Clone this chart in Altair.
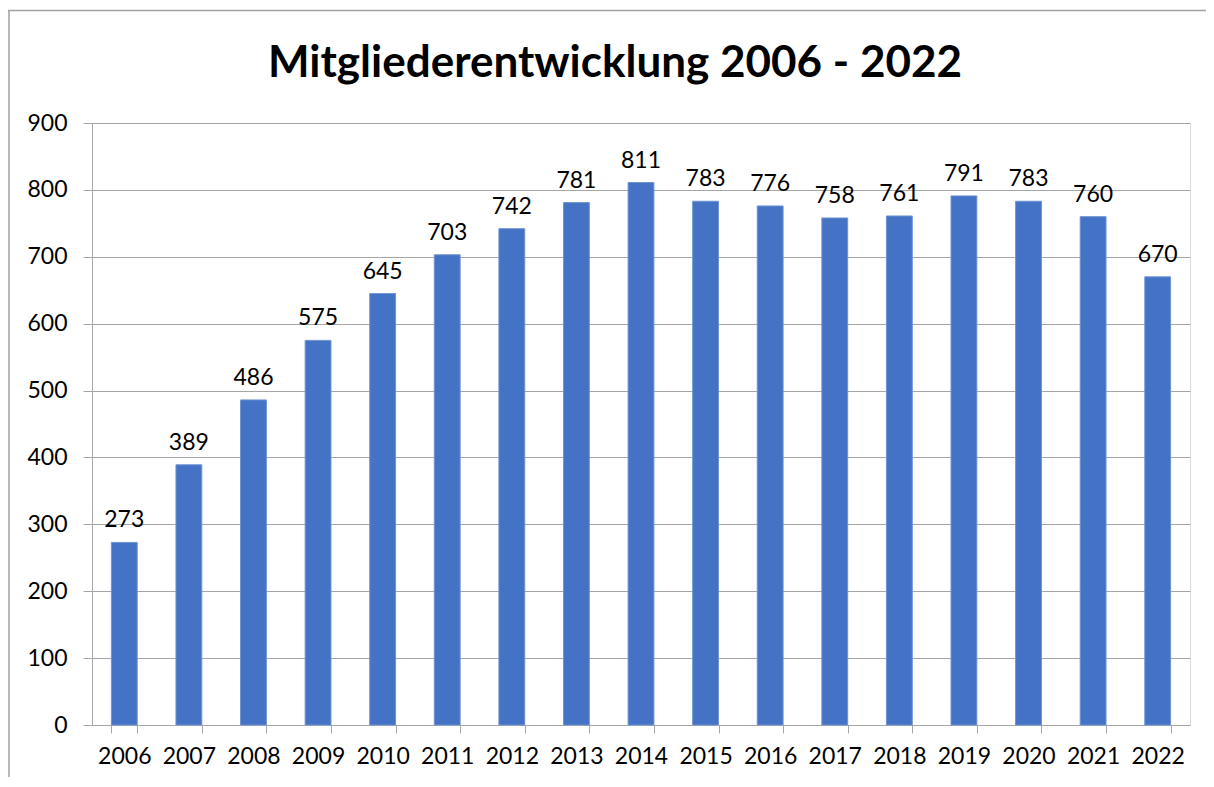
import altair as alt
import pandas as pd

years = ["2006", "2007", "2008", "2009", "2010", "2011", "2012", "2013", "2014",
         "2015", "2016", "2017", "2018", "2019", "2020", "2021", "2022"]
members = [273, 389, 486, 575, 645, 703, 742, 781, 811, 783, 776, 758, 761, 791, 783, 760, 670]
y_ticks = [0, 100, 200, 300, 400, 500, 600, 700, 800, 900]
title_text = ["Mitgliederentwicklung 2006 - 2022"]

df = pd.DataFrame({"Jahr": years, "Mitglieder": members})

FONT = "Lato"
W, H = 1098, 602

x_enc = alt.X("Jahr:N", sort=years, title=None,
              scale=alt.Scale(paddingInner=0.6, paddingOuter=0.3),
              axis=alt.Axis(labelAngle=0, labelFont=FONT, labelFontSize=23, labelColor="#000000",
                            labelPadding=12, tickBand="extent", tickSize=8, tickColor="#a6a6a6",
                            domainColor="#a6a6a6", grid=False))
y_enc = alt.Y("Mitglieder:Q", title=None,
              scale=alt.Scale(domain=[0, 900], nice=False),
              axis=alt.Axis(values=y_ticks, labelFont=FONT, labelFontSize=23, labelColor="#000000",
                            labelPadding=16, tickSize=9, tickColor="#a6a6a6",
                            domainColor="#a6a6a6", gridColor="#a6a6a6"))

bars = alt.Chart(df).mark_bar(color="#4472C4", stroke="#6f93d3", strokeWidth=1).encode(x=x_enc, y=y_enc)
labels = alt.Chart(df).mark_text(font=FONT, fontSize=23, color="#000000", baseline="alphabetic",
                                 dy=-15).encode(x=alt.X("Jahr:N", sort=years), y="Mitglieder:Q",
                                                text="Mitglieder:Q")

frame_df = pd.DataFrame({"f": [0]})
frame_top = alt.Chart(frame_df).mark_rule(stroke="#a0a0a0", strokeWidth=1.5).encode(
    x=alt.value(-84), x2=alt.value(W + 16), y=alt.value(-112.5))
frame_left = alt.Chart(frame_df).mark_rule(stroke="#a0a0a0", strokeWidth=1.5).encode(
    x=alt.value(-83), y=alt.value(-113), y2=alt.value(H + 60))

title = alt.Chart(pd.DataFrame({"t": title_text})).mark_text(
    font=FONT, fontSize=44, fontWeight="bold", color="#000000", align="center",
    baseline="alphabetic").encode(x=alt.value(523), y=alt.value(-46), text="t:N")

chart = alt.layer(frame_top, frame_left, bars, labels, title).properties(
    width=W, height=H,
    autosize=alt.AutoSizeParams(type="none"),
    padding={"left": 84, "top": 115, "right": 16, "bottom": 52},
).configure_view(stroke=None).configure(background="white")

chart.save("out.html", embed_options={"renderer": "svg", "actions": False})
